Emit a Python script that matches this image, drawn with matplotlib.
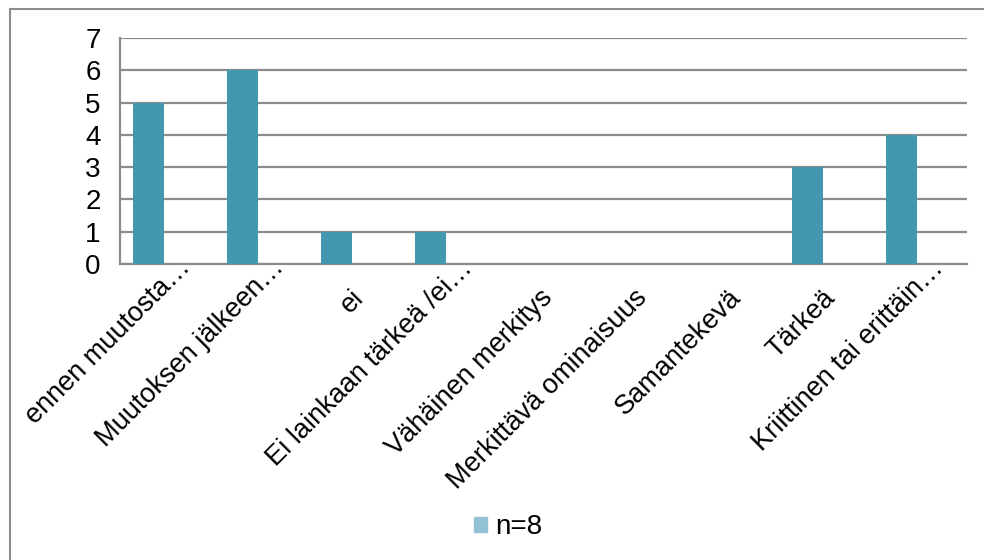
import matplotlib.pyplot as plt
from matplotlib.lines import Line2D
from matplotlib.patches import Patch
import matplotlib.transforms as mtransforms

plt.rcParams['font.family'] = ['Liberation Sans', 'DejaVu Sans']

categories = ['ennen muutosta…', 'Muutoksen jälkeen…', 'ei',
              'Ei lainkaan tärkeä /ei…', 'Vähäinen merkitys',
              'Merkittävä ominaisuus', 'Samantekevä', 'Tärkeä',
              'Kriittinen tai erittäin…']
values = [5, 6, 1, 1, 0, 0, 0, 3, 4]
series_name = 'n=8'

bar_color = '#4398AF'
legend_color = '#92C3D4'
grid_color = '#8C8C8C'

fig = plt.figure(figsize=(9.84, 5.6), dpi=100)
ax = fig.add_axes([0.122, 0.5286, 0.861, 0.4036])

x = list(range(len(categories)))
ax.bar([i - 0.2 for i in x], values, width=0.33, color=bar_color, zorder=3)

ax.set_xlim(-0.5, len(categories) - 0.5)
ax.set_ylim(0, 7)
ax.set_yticks(range(0, 8))
ax.yaxis.grid(True, color=grid_color, linewidth=1.6, zorder=0)
ax.set_axisbelow(True)
for s in ['top', 'right']:
    ax.spines[s].set_visible(False)
ax.spines['left'].set_color(grid_color)
ax.spines['left'].set_linewidth(1.6)
ax.spines['bottom'].set_color(grid_color)
ax.spines['bottom'].set_linewidth(1.6)
ax.tick_params(axis='y', length=0, labelsize=20, pad=14)
ax.tick_params(axis='x', length=0, labelsize=19.5, pad=0)

ax.set_xticks(x)
ax.set_xticklabels(categories, rotation=45, ha='right', va='baseline',
                   rotation_mode='anchor')
# shortened labels (with ellipsis) sit a bit further up the diagonal
for lab in ax.get_xticklabels():
    if lab.get_text().endswith('…'):
        dx, dy = 0.24, -0.05
    else:
        dx, dy = 0.10, -0.35
    off = mtransforms.ScaledTranslation(dx, dy, fig.dpi_scale_trans)
    lab.set_transform(lab.get_transform() + off)

# outer chart border (top and left visible)
fig.add_artist(Line2D([10 / 984, 10 / 984], [0, 1 - 9 / 560],
                      color='#8C8C8C', linewidth=1.5))
fig.add_artist(Line2D([10 / 984, 1], [1 - 9 / 560, 1 - 9 / 560],
                      color='#8C8C8C', linewidth=1.5))

fig.legend(handles=[Patch(color=legend_color, label=series_name)],
           loc='center', bbox_to_anchor=(508 / 984, 1 - 527 / 560),
           frameon=False, fontsize=20, handlelength=0.45, handleheight=0.45,
           handletextpad=0.3)

fig.savefig('out.png', dpi=100)
